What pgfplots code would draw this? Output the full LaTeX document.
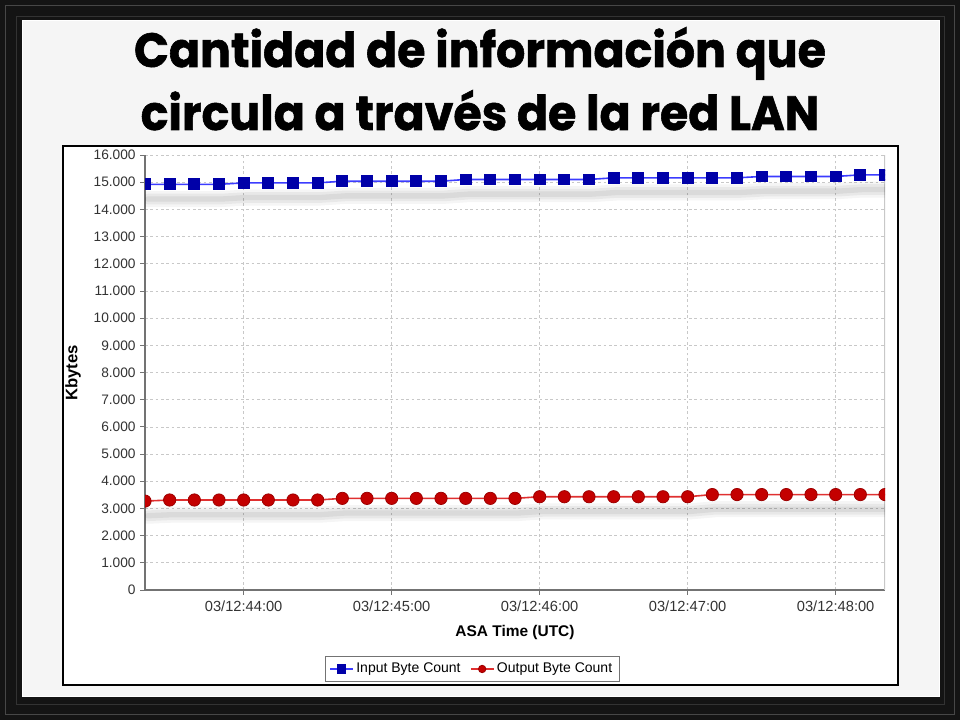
\documentclass[border=0pt]{standalone}
\usepackage{pgfplots}
\pgfplotsset{compat=1.18}
\usepackage{pgfplotstable}
\usepackage{fontspec}
\setmainfont{Liberation Sans}
\newfontfamily\titlefont{Poppins}[FakeStretch=0.955, BoldFeatures={FakeBold=1.2}]
\definecolor{inblue}{HTML}{0000A8}
\definecolor{inline}{HTML}{3C3CFF}
\definecolor{outred}{HTML}{C40000}
\definecolor{outline}{HTML}{E03030}
\definecolor{gridgray}{HTML}{C8C8C8}

\pgfplotstableread{
t in out
20 14920 3270
30 14920 3310
40 14920 3310
50 14920 3310
60 14975 3310
70 14975 3310
80 14975 3310
90 14975 3310
100 15035 3370
110 15035 3370
120 15035 3370
130 15035 3370
140 15035 3370
150 15100 3370
160 15100 3370
170 15100 3370
180 15100 3430
190 15100 3430
200 15100 3430
210 15160 3430
220 15160 3430
230 15160 3430
240 15160 3430
250 15160 3510
260 15160 3510
270 15210 3510
280 15210 3510
290 15210 3510
300 15210 3510
310 15270 3510
320 15270 3510
}\data

\begin{document}
\begin{tikzpicture}
\useasboundingbox (0,0) rectangle (720pt,540pt);
% picture frame
\fill[black!92] (0,0) rectangle (720pt,540pt);
\draw[black!72, line width=1pt] (4pt,4pt) rectangle (716pt,536pt);
\draw[black!80, line width=0.6pt] (12pt,12pt) rectangle (708pt,528pt);
\fill[black!4] (16.5pt,17.25pt) rectangle (705pt,525pt);
\draw[white, line width=1pt] (17pt,17.75pt) rectangle (704.5pt,524.5pt);
% chart panel
\fill[white] (47.25pt,26.25pt) rectangle (673.5pt,430.5pt);
\draw[black, line width=0.8pt] (47.25pt,26.25pt) rectangle (673.5pt,430.5pt);
% title
\node[anchor=base, inner sep=0pt, font=\titlefont\bfseries\fontsize{36}{40}\selectfont] at (360pt,489.75pt) {Cantidad de información que};
\node[anchor=base, inner sep=0pt, font=\titlefont\bfseries\fontsize{36}{40}\selectfont] at (360pt,442.5pt) {circula a través de la red LAN};

\begin{axis}[
  at={(108.75pt,97.5pt)}, anchor=south west,
  scale only axis, width=555pt, height=326.25pt,
  xmin=20, xmax=320, ymin=0, ymax=16000,
  xtick={60,120,180,240,300},
  xticklabels={03/12:44:00,03/12:45:00,03/12:46:00,03/12:47:00,03/12:48:00},
  ytick={0,1000,...,16000},
  /pgf/number format/fixed,
  /pgf/number format/1000 sep={.},
  /pgf/number format/assume math mode=true,
  scaled y ticks=false,
  axis x line*=bottom, axis y line*=left,
  axis line style={black!55, line width=0.8pt, -},
  grid=major,
  major grid style={gridgray, dash pattern=on 2pt off 2pt, line width=0.5pt},
  tick align=outside, major tick length=3.5pt,
  tick style={black!55, line width=0.6pt},
  x tick label style={font=\fontsize{11}{13}\selectfont, text=black!80, yshift=-1pt},
  y tick label style={font=\fontsize{10.3}{12}\selectfont, text=black!80},
  xlabel={ASA Time (UTC)},
  ylabel={Kbytes},
  xlabel style={font=\bfseries\fontsize{11.6}{14}\selectfont, at={(axis description cs:0.5,-0.0966)}, anchor=center},
  ylabel style={font=\bfseries\fontsize{12.5}{14}\selectfont, at={(axis description cs:-0.0973,0.499)}, anchor=center},
  clip marker paths=true,
  legend columns=2,
  legend style={at={(axis description cs:0.442,-0.1816)}, anchor=center,
    draw=black!55, fill=white, font=\fontsize{10.5}{12}\selectfont,
    inner xsep=3pt, inner ysep=3pt,
    /tikz/every even column/.append style={column sep=5pt}},
  legend image post style={mark size=2.8pt},
]
% right border of plot area
\draw[gridgray, line width=0.8pt] (rel axis cs:1,0) -- (rel axis cs:1,1);
% soft drop shadows
\addplot[forget plot, black, opacity=0.04, line width=12pt, yshift=-11pt, xshift=2pt, line cap=round] table[x=t, y=in] {\data};
\addplot[forget plot, black, opacity=0.05, line width=8pt, yshift=-11pt, xshift=2pt, line cap=round] table[x=t, y=in] {\data};
\addplot[forget plot, black, opacity=0.06, line width=4pt, yshift=-11pt, xshift=2pt, line cap=round] table[x=t, y=in] {\data};
\addplot[forget plot, black, opacity=0.04, line width=12pt, yshift=-11pt, xshift=2pt, line cap=round] table[x=t, y=out] {\data};
\addplot[forget plot, black, opacity=0.05, line width=8pt, yshift=-11pt, xshift=2pt, line cap=round] table[x=t, y=out] {\data};
\addplot[forget plot, black, opacity=0.06, line width=4pt, yshift=-11pt, xshift=2pt, line cap=round] table[x=t, y=out] {\data};
% series
\addplot[inline, line width=1.2pt, mark=square*, mark size=3.8pt, mark options={draw=inblue, fill=inblue, solid}] table[x=t, y=in] {\data};
\addlegendentry{Input Byte Count}
\addplot[outline, line width=1.2pt, mark=*, mark size=4.6pt, mark options={draw=outred!80!black, fill=outred, line width=0.6pt, solid}] table[x=t, y=out] {\data};
\addlegendentry{Output Byte Count}
\end{axis}
\end{tikzpicture}
\end{document}
